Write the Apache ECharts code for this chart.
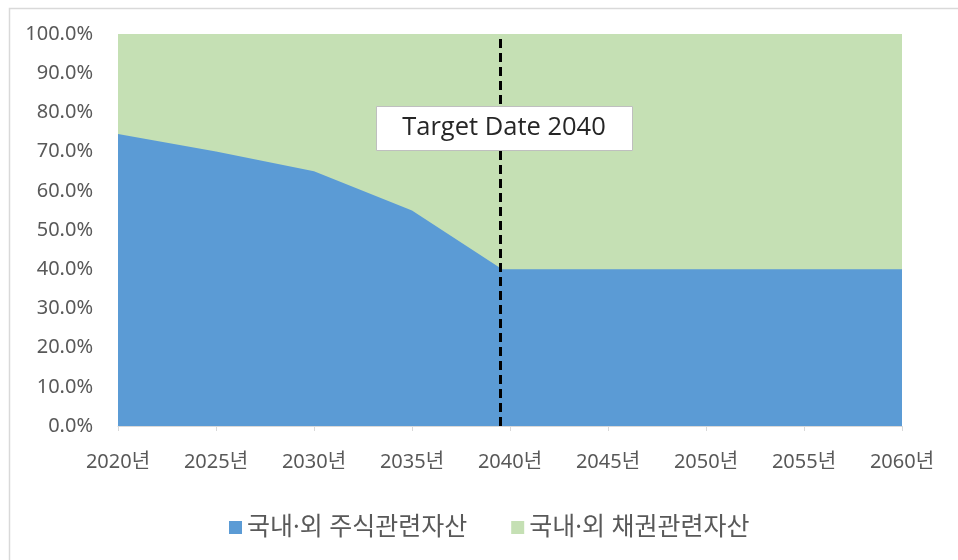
<!DOCTYPE html>
<html>
<head>
<meta charset="utf-8">
<script src="https://cdn.jsdelivr.net/npm/echarts@6/dist/echarts.min.js"></script>
<style>
  html, body { margin: 0; padding: 0; background: #fff; }
  #chart { width: 958px; height: 560px; }
</style>
</head>
<body>
<div id="chart"></div>
<script>
// 연도별 주식 비중 (%), 채권은 나머지
var years = [2020, 2025, 2030, 2035, 2039.6, 2045, 2050, 2055, 2060];
var stockShare = [74.5, 70, 65, 55, 40, 40, 40, 40, 40];
var bondShare = stockShare.map(function (v) { return 100 - v; });
var seriesNames = ['국내·외 주식관련자산', '국내·외 채권관련자산'];
var targetYear = 2039.5;
var targetLabel = 'Target Date 2040';

var font = '"Noto Sans", "Noto Sans CJK KR", sans-serif';
var myChart = echarts.init(document.getElementById('chart'));

// 누적값 (채권 영역은 주식 위에 쌓임)
var stockPts = years.map(function (y, i) { return [y, stockShare[i]]; });
var bondPts = years.map(function (y, i) { return [y, stockShare[i] + bondShare[i]]; });

var option = {
    animation: false,
    textStyle: { fontFamily: font },
    grid: { left: 118, right: 56, top: 34, bottom: 134 },
    legend: {
        data: seriesNames,
        top: 510,
        left: 224,
        icon: 'rect',
        itemWidth: 13,
        itemHeight: 13,
        itemGap: 44,
        textStyle: { fontSize: 25, color: '#595959', fontFamily: font }
    },
    xAxis: {
        type: 'value',
        min: 2020,
        max: 2060,
        interval: 5,
        axisLine: { show: true, lineStyle: { color: '#d9d9d9' } },
        axisTick: { show: true, length: 5, lineStyle: { color: '#d9d9d9' } },
        splitLine: { show: false },
        axisLabel: {
            color: '#595959',
            fontSize: 20,
            margin: 26,
            formatter: function (v) { return v + '년'; }
        }
    },
    yAxis: {
        type: 'value',
        min: 0,
        max: 100,
        interval: 10,
        axisLine: { show: false },
        axisTick: { show: false },
        splitLine: { show: false },
        axisLabel: {
            color: '#595959',
            fontSize: 20,
            margin: 25,
            formatter: function (v) { return v.toFixed(1) + '%'; }
        }
    },
    series: [
        {
            name: seriesNames[0],
            type: 'line',
            data: stockPts,
            z: 3,
            symbol: 'none',
            lineStyle: { width: 0 },
            itemStyle: { color: '#5b9bd5' },
            areaStyle: { color: '#5b9bd5', opacity: 1 },
            markLine: {
                silent: true,
                symbol: 'none',
                z: 10,
                label: { show: false },
                lineStyle: { color: '#000', width: 3, type: [9, 5] },
                data: [{ xAxis: targetYear }]
            }
        },
        {
            name: seriesNames[1],
            type: 'line',
            data: bondPts,
            z: 2,
            symbol: 'none',
            lineStyle: { width: 0 },
            itemStyle: { color: '#c5e0b4' },
            areaStyle: { color: '#c5e0b4', opacity: 1 }
        }
    ],
    graphic: [
        {
            type: 'rect',
            left: 7,
            top: 6,
            shape: { width: 1000, height: 600 },
            style: { fill: 'none', stroke: '#d9d9d9', lineWidth: 1.5 },
            silent: true
        },
        {
            type: 'rect',
            left: 376,
            top: 106,
            z: 100,
            shape: { width: 256, height: 44 },
            style: { fill: '#fff', stroke: '#bfbfbf', lineWidth: 1 }
        },
        {
            type: 'text',
            x: 504,
            y: 128,
            z: 101,
            style: {
                text: targetLabel,
                fill: '#262626',
                font: '25.5px "Open Sans", "Noto Sans", sans-serif',
                align: 'center',
                verticalAlign: 'middle'
            }
        }
    ]
};

myChart.setOption(option);
</script>
</body>
</html>
